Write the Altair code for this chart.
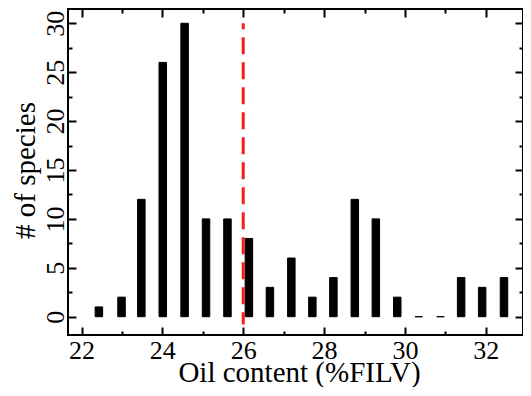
import altair as alt
import pandas as pd

# Data
bin_centers = [22.43, 22.99, 23.48, 24.01, 24.55, 25.08, 25.61, 26.14, 26.66, 27.19,
               27.71, 28.23, 28.76, 29.28, 29.81, 30.34, 30.88, 31.39, 31.91, 32.45]
counts = [1, 2, 12, 26, 30, 10, 10, 8, 3, 6, 2, 4, 12, 10, 2, 0, 0, 4, 3, 4]
threshold = 26
x_label_values = [22, 24, 26, 28, 30, 32]
x_tick_values = [22, 23, 24, 25, 26, 27, 28, 29, 30, 31, 32]
y_label_values = [0, 5, 10, 15, 20, 25, 30]
y_tick_values = [0, 2.5, 5, 7.5, 10, 12.5, 15, 17.5, 20, 22.5, 25, 27.5, 30]

df = pd.DataFrame({"oil": bin_centers, "n": counts})

W, H = 455, 326
FONT = "Liberation Serif"
xscale = alt.Scale(domain=[21.666, 32.92], nice=False, zero=False, padding=0)
yscale = alt.Scale(domain=[-1.87, 31.46], nice=False, zero=False, padding=0)

x_major = {"condition": {"test": "datum.value % 2 === 0", "value": 8}, "value": 4}
y_major = {"condition": {"test": "datum.value % 5 === 0", "value": 8}, "value": 4}

tick_common = dict(labels=False, domain=False, grid=False, ticks=True,
                   tickColor="black", tickWidth=2, title=None)

bars = alt.Chart(df).mark_bar(color="black", stroke="black", strokeWidth=1, size=7.5).encode(
    x=alt.X("oil:Q", scale=xscale,
            axis=alt.Axis(orient="bottom", values=x_label_values, ticks=False, tickSize=0,
                          domain=False, grid=False, labelFont=FONT, labelFontSize=26,
                          labelColor="black", labelPadding=2, labelBaseline="top",
                          title="Oil content (%FILV)", titleFont=FONT, titleFontSize=29,
                          titleFontWeight="normal", titleColor="black",
                          titleBaseline="alphabetic", titleX=(530 - 68) / 2, titleY=46)),
    y=alt.Y("n:Q", scale=yscale,
            axis=alt.Axis(orient="left", values=y_label_values, ticks=False, tickSize=0,
                          domain=False, grid=False, labelFont=FONT, labelFontSize=26,
                          labelColor="black", labelPadding=5, labelAngle=270,
                          labelAlign="center", labelBaseline="alphabetic",
                          title="# of species", titleFont=FONT, titleFontSize=29,
                          titleFontWeight="normal", titleColor="black", titleAngle=270,
                          titleAlign="center", titleBaseline="alphabetic",
                          titleX=-34, titleY=161)),
    y2=alt.datum(0),
)

rule = alt.Chart(pd.DataFrame({"t": [threshold]})).mark_rule(
    color="#ff1a1a", strokeWidth=3, strokeDash=[17, 8], strokeDashOffset=11
).encode(
    x=alt.X("t:Q", scale=xscale,
            axis=alt.Axis(orient="top", offset=-H, values=x_tick_values,
                          tickSize=x_major, **tick_common)),
    y=alt.Y(datum=30, type="quantitative", scale=yscale,
            axis=alt.Axis(orient="right", offset=-W, values=y_tick_values,
                          tickSize=y_major, **tick_common)),
    y2=alt.datum(-0.8),
)

frame_ticks = alt.Chart(df).mark_bar(opacity=0).encode(
    x=alt.X("oil:Q", scale=xscale,
            axis=alt.Axis(orient="bottom", offset=-H, values=x_tick_values,
                          tickSize=x_major, **tick_common)),
    y=alt.Y("n:Q", scale=yscale,
            axis=alt.Axis(orient="left", offset=-W, values=y_tick_values,
                          tickSize=y_major, **tick_common)),
)

chart = alt.layer(bars, rule, frame_ticks).resolve_axis(
    x="independent", y="independent"
).properties(
    width=W, height=H,
    autosize=alt.AutoSizeParams(type="none"),
    padding={"left": 60, "top": 1, "right": 0, "bottom": 52},
    background="white",
).configure_view(stroke="black", strokeWidth=2)

chart.save("out.html", embed_options={"renderer": "svg", "actions": False})
